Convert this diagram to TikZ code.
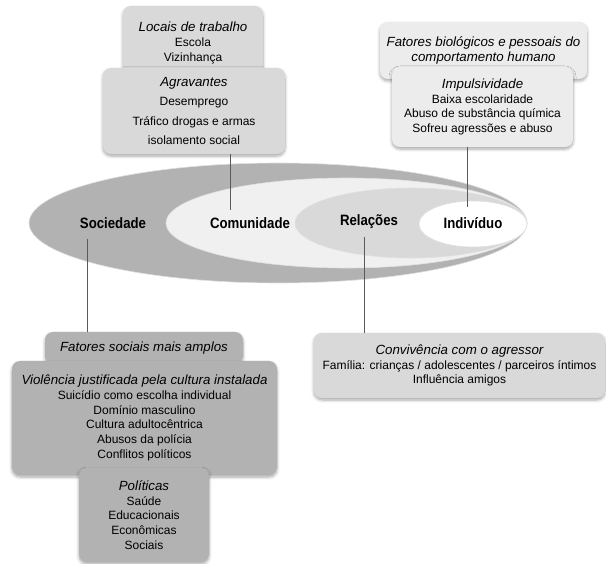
\documentclass[tikz,border=0pt]{standalone}
\usepackage{fontspec}
\setmainfont{Liberation Sans}
\newfontfamily\ringfont[FakeStretch=0.88]{Liberation Sans}
\usepackage{xcolor}
\usepackage{tikz}
\usetikzlibrary{shadows.blur}
\definecolor{socgray}{RGB}{178,178,178}
\definecolor{comgray}{RGB}{240,240,240}
\definecolor{relgray}{RGB}{217,217,217}
\definecolor{boxmid}{RGB}{217,217,217}
\definecolor{boxlight}{RGB}{236,236,236}
\definecolor{boxdark}{RGB}{178,178,178}
\definecolor{linegray}{RGB}{90,90,90}
\newcommand{\hd}[1]{{\fontsize{13.3}{14.8}\selectfont\itshape #1}}

\begin{document}
\begin{tikzpicture}[x=1pt, y=-1pt,
  box/.style={rounded corners=8pt, align=center, inner sep=0pt,
              font=\fontsize{12}{14.8}\selectfont,
              blur shadow={shadow blur steps=6, shadow xshift=0pt,
                           shadow yshift=-2pt, shadow blur radius=3pt,
                           shadow opacity=35}},
  midbox/.style={box, fill=boxmid},
  lightbox/.style={box, fill=boxlight},
  darkbox/.style={box, fill=boxdark},
  ring/.style={draw=white!88!black, line width=0.6pt},
  lvl/.style={anchor=base, font=\ringfont\fontsize{15}{18}\selectfont\bfseries},
  conn/.style={draw=linegray, line width=0.8pt},
]
\useasboundingbox (0,0) rectangle (606,564);
\draw[ring, fill=socgray] (278,223) ellipse [x radius=249, y radius=60];
\draw[ring, fill=comgray] (346.5,223) ellipse [x radius=180.5, y radius=45];
\draw[ring, fill=relgray] (411,223) ellipse [x radius=116, y radius=35];
\draw[ring, fill=white] (473,224) ellipse [x radius=54, y radius=23];
\node[lvl] (lsoc) at (113,229) {Sociedade};
\node[lvl] (lcom) at (250,229) {Comunidade};
\node[lvl] (lrel) at (369,226) {Relações};
\node[lvl] (lind) at (473,229) {Indivíduo};
\node[midbox, minimum width=140pt, minimum height=74pt] (locais) at (193,43)
{\hd{Locais de trabalho}\\ Escola\\ Vizinhança};
\node[midbox, minimum width=182pt, minimum height=86pt,
      font=\fontsize{12}{19.3}\selectfont] (agrav) at (194,111)
{\hd{Agravantes}\\ Desemprego\\ Tráfico drogas e armas\\ isolamento social};
\node[lightbox, minimum width=207pt, minimum height=57pt] (biol) at (483.5,50.5)
{\hd{Fatores biológicos e pessoais do}\\ \hd{comportamento humano}};
\node[lightbox, minimum width=181pt, minimum height=80pt] (impuls) at (482.5,107)
{\hd{Impulsividade}\\ Baixa escolaridade\\ Abuso de substância química\\
Sofreu agressões e abuso};
\node[darkbox, minimum width=198pt, minimum height=32pt] (amplos) at (144,348)
{\hd{Fatores sociais mais amplos}};
\node[darkbox, minimum width=265pt, minimum height=114pt] (violen) at (144.5,418)
{\hd{Violência justificada pela cultura instalada}\\ Suicídio como escolha individual\\
Domínio masculino\\ Cultura adultocêntrica\\ Abusos da polícia\\ Conflitos políticos};
\node[darkbox, minimum width=130pt, minimum height=94pt] (polit) at (144,515)
{\hd{Políticas}\\ Saúde\\ Educacionais\\ Econômicas\\ Sociais};
\node[midbox, minimum width=291pt, minimum height=65pt] (conviv) at (459.5,365.5)
{\hd{Convivência com o agressor}\\ Família: crianças / adolescentes / parceiros íntimos\\
Influência amigos};
\coordinate (ccom) at (230,210);
\coordinate (cind) at (467,207);
\coordinate (csoc) at (87,239);
\coordinate (crel) at (364,237);
\draw[conn] (agrav.south -| ccom) -- (ccom);
\draw[conn] (impuls.south -| cind) -- (cind);
\draw[conn] (csoc) -- (csoc |- amplos.north);
\draw[conn] (crel) -- (crel |- conviv.north);
\end{tikzpicture}
\end{document}
